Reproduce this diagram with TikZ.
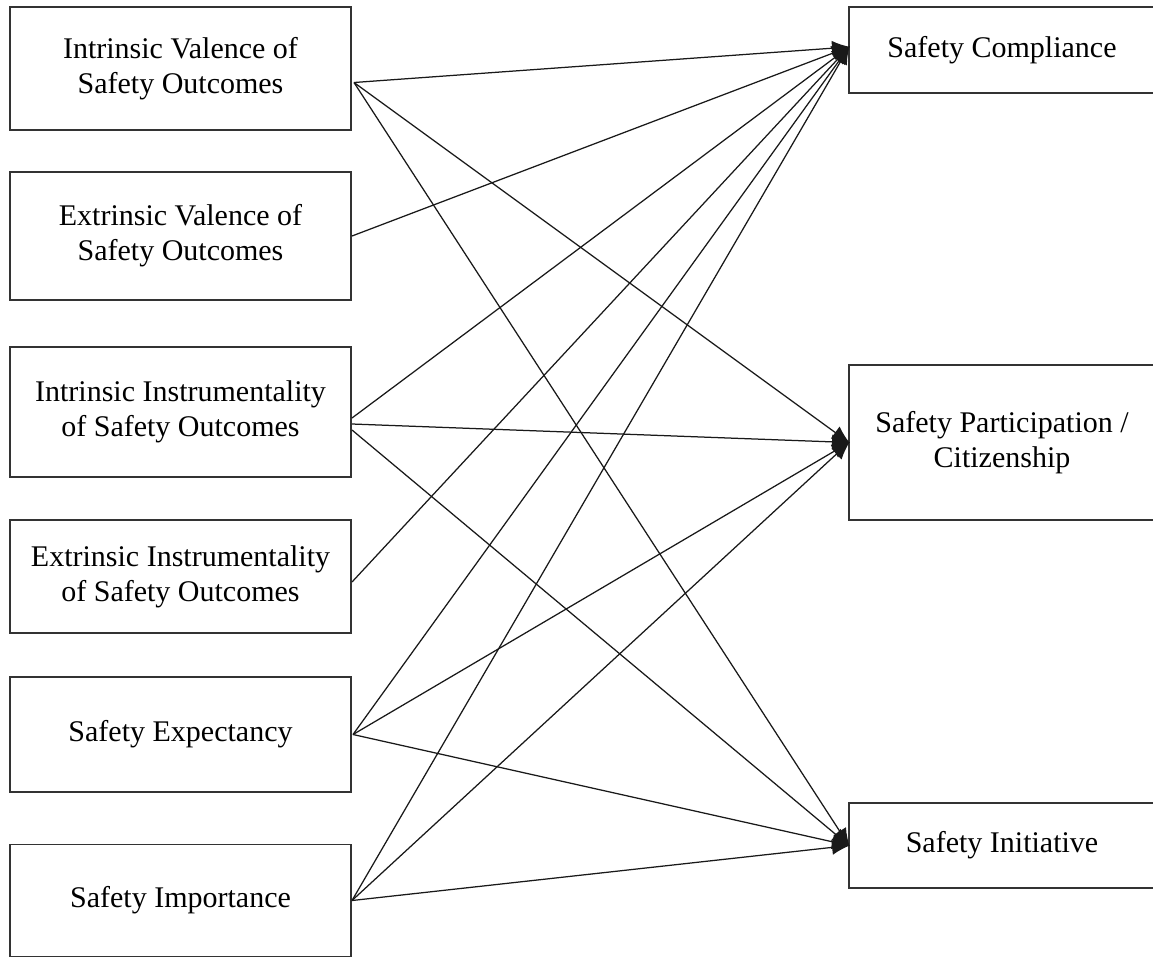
\documentclass[tikz,border=0pt]{standalone}
\usepackage{fontspec}
\setmainfont{Liberation Serif}
\usetikzlibrary{arrows.meta}

\tikzset{
  box/.style={draw=black!80, line width=1.6pt, inner sep=0pt, outer sep=0pt,
              align=center, font=\fontsize{30}{35}\selectfont},
  srcbox/.style={box, minimum width=341pt},
  dstbox/.style={box, minimum width=306pt},
  link/.style={draw=black!90, line width=1.25pt,
               -{Latex[length=18pt,width=15pt]}, shorten >=-1pt}
}

\begin{document}
\begin{tikzpicture}[x=1pt, y=-1pt]
  \fill[white] (0,0) rectangle (1153,959);
  \useasboundingbox (0,0) rectangle (1153,959);
  \clip (0,0) rectangle (1153,959);

  % predictors
  \node[srcbox, minimum height=123pt] (iv) at (180.5, 68.5)
    {Intrinsic Valence of\\Safety Outcomes};
  \node[srcbox, minimum height=128pt] (ev) at (180.5, 236)
    {Extrinsic Valence of\\Safety Outcomes};
  \node[srcbox, minimum height=130pt] (ii) at (180.5, 412)
    {Intrinsic Instrumentality\\of Safety Outcomes};
  \node[srcbox, minimum height=113pt] (ei) at (180.5, 576.5)
    {Extrinsic Instrumentality\\of Safety Outcomes};
  \node[srcbox, minimum height=115pt] (ex) at (180.5, 734.5)
    {Safety Expectancy};
  \node[srcbox, minimum height=112pt] (im) at (180.5, 900.5)
    {Safety Importance};

  % outcomes
  \node[dstbox, minimum height=86pt] (sc) at (1002, 50)
    {Safety Compliance};
  \node[dstbox, minimum height=155pt] (sp) at (1002, 442.5)
    {Safety Participation /\\Citizenship};
  \node[dstbox, minimum height=85pt] (si) at (1002, 845.5)
    {Safety Initiative};

  % paths
  \draw[link] ([shift={(3,14)}]iv.east) -- ([yshift=3]sc.west);
  \draw[link] ([shift={(3,14)}]iv.east) -- (sp.west);
  \draw[link] ([shift={(3,14)}]iv.east) -- (si.west);

  \draw[link] ([xshift=1]ev.east) -- ([yshift=3]sc.west);

  \draw[link] ([shift={(1,6)}]ii.east) -- ([yshift=3]sc.west);
  \draw[link] ([shift={(1,12)}]ii.east) -- (sp.west);
  \draw[link] ([shift={(1,18)}]ii.east) -- (si.west);

  \draw[link] ([shift={(1,5.5)}]ei.east) -- ([yshift=3]sc.west);

  \draw[link] ([xshift=2]ex.east) -- ([yshift=3]sc.west);
  \draw[link] ([xshift=2]ex.east) -- (sp.west);
  \draw[link] ([xshift=2]ex.east) -- (si.west);

  \draw[link] ([shift={(1,0)}]im.east) -- ([yshift=3]sc.west);
  \draw[link] ([shift={(1,0)}]im.east) -- (sp.west);
  \draw[link] ([shift={(1,0)}]im.east) -- (si.west);
\end{tikzpicture}
\end{document}
